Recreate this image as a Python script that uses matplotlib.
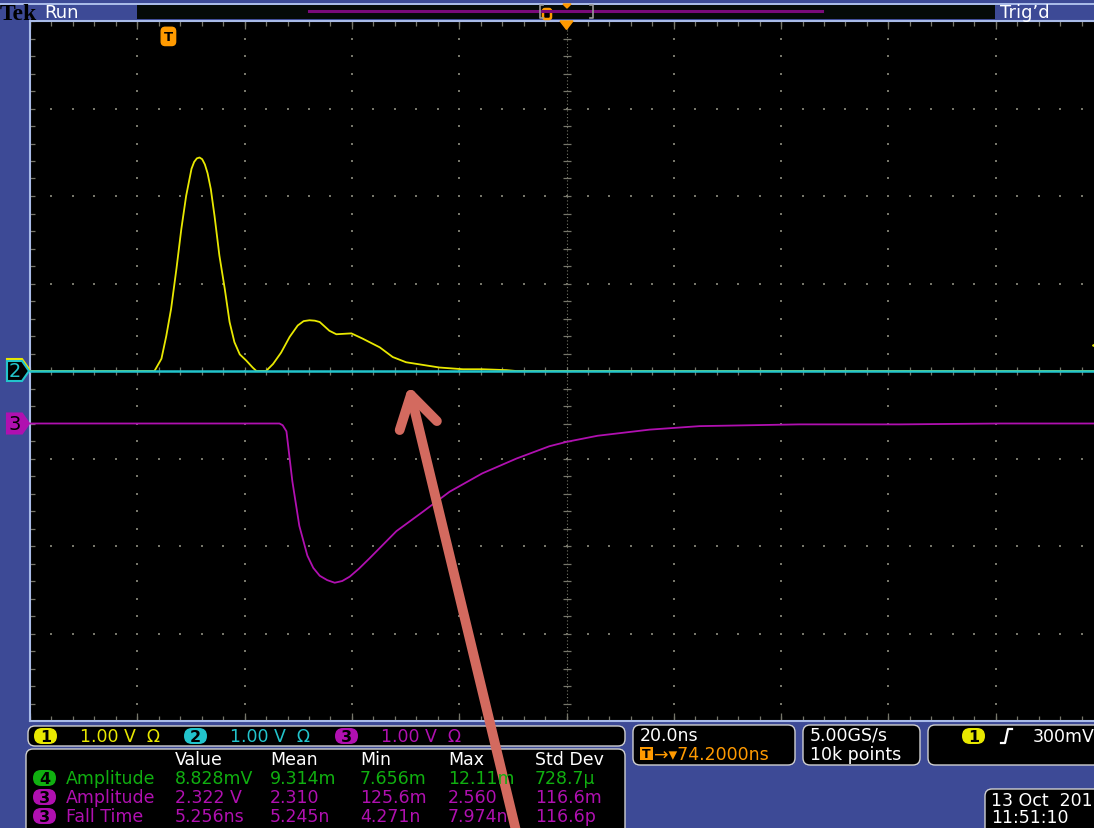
import numpy as np
import matplotlib.pyplot as plt
import matplotlib.transforms as mtransforms
from matplotlib.patches import Rectangle, FancyBboxPatch, Polygon, FancyArrowPatch

# time after trigger (ns) and volts
ch1_t = [-25.8, -2.6, -1.3, -0.4, 0.5, 1.5, 2.4, 3.3, 4.3, 4.8, 5.3, 5.8, 6.3, 6.8, 7.3,
         7.9, 8.6, 9.5, 10.5, 11.4, 12.3, 13.3, 14.5, 15.7, 16.4, 18.2, 19.5, 21.0,
         22.6, 24.1, 25.2, 26.3, 27.3, 28.2, 30.0, 31.3, 32.7, 34.1, 36.2, 39.4, 41.8,
         44.3, 47.4, 50.5, 54.9, 58.6, 63.0, 64.8, 174.2]
ch1_v = [0.0, 0.0, 0.14, 0.40, 0.71, 1.17, 1.62, 2.00, 2.31, 2.39, 2.43, 2.44, 2.42, 2.36,
         2.26, 2.08, 1.77, 1.32, 0.94, 0.56, 0.33, 0.19, 0.12, 0.04, 0.0, 0.0, 0.08, 0.21,
         0.39, 0.52, 0.57, 0.58, 0.575, 0.56, 0.46, 0.42, 0.425, 0.43, 0.37, 0.27, 0.16,
         0.10, 0.07, 0.04, 0.02, 0.02, 0.01, 0.0, 0.0]

ch2_t = [-25.8, 174.2]
ch2_v = [0.0, 0.0]

ch3_t = [-25.8, 20.7, 21.3, 22.0, 23.1, 24.4, 25.9, 27.0, 28.2, 29.6, 31.0, 32.4, 33.8,
         35.5, 37.5, 42.5, 47.4, 52.4, 58.5, 64.9, 71.0, 74.2, 80.0, 89.7, 99.0, 117.6,
         136.3, 155.0, 174.2]
ch3_v = [0.0, 0.0, -0.02, -0.09, -0.66, -1.17, -1.51, -1.65, -1.74, -1.79, -1.82, -1.80,
         -1.75, -1.66, -1.54, -1.23, -1.01, -0.78, -0.57, -0.40, -0.26, -0.21, -0.14,
         -0.07, -0.03, -0.01, -0.01, 0.0, 0.0]
ch3_offset = -0.6

t_center = 74.2      # horizontal position
ns_div = 20.0
v_div = 1.0

meas_cols = ['Value', 'Mean', 'Min', 'Max', 'Std Dev']
meas_rows = [('4', 'Amplitude', ['8.828mV', '9.314m', '7.656m', '12.11m', '728.7µ']),
             ('3', 'Amplitude', ['2.322 V', '2.310', '125.6m', '2.560', '116.6m']),
             ('3', 'Fall Time', ['5.256ns', '5.245n', '4.271n', '7.974n', '116.6p'])]

BLUE = '#3d4a96'
EDGE = '#a9bbe8'
GRID = '#76766a'
YEL = '#e8e800'
CYA = '#22c4cc'
MAG = '#b010b0'
GRN = '#10b010'
ORG = '#ff9a00'
FONT = ['DejaVu Sans']

W, H = 1094, 829
fig = plt.figure(figsize=(W / 100, H / 100), dpi=100, facecolor=BLUE)
PX = mtransforms.Affine2D().scale(1 / W, -1 / H).translate(0, 1) + fig.transFigure

ax = fig.add_axes([30 / W, 107 / H, 1073 / W, 700 / H])
ax.set_facecolor('black')
x0, x1 = t_center - 5 * ns_div, t_center + 5 * ns_div
ax.set_xlim(x0, x1)
ax.set_ylim(-4 * v_div, 4 * v_div)
ax.set_xticks([])
ax.set_yticks([])
for s in ax.spines.values():
    s.set_color(EDGE)
    s.set_linewidth(1.5)

# graticule
xmaj = x0 + ns_div * np.arange(11)
ymaj = np.arange(-4, 5) * v_div
xmin = x0 + ns_div / 5 * np.arange(51)
ymin = np.arange(-20, 21) * v_div / 5
for xv in xmaj[1:-1]:
    if abs(xv - t_center) > 1e-6:
        ax.scatter(np.full(len(ymin), xv), ymin, s=1.6, marker='s', color=GRID, lw=0)
for yv in ymaj[1:-1]:
    if yv != 0:
        ax.scatter(xmin, np.full(len(xmin), yv), s=1.6, marker='s', color=GRID, lw=0)
ax.axvline(t_center, color=GRID, lw=0.8, ls=(0, (1, 2)))
ax.axhline(0, color=GRID, lw=0.8, ls=(0, (1, 2)))
ax.plot(np.full(len(ymin), t_center), ymin, ls='none', marker='_', ms=6, color=GRID, mew=0.9)
ax.plot(xmin, np.zeros(len(xmin)), ls='none', marker='|', ms=6, color=GRID, mew=0.9)
for yv, mk, xs in [(4, '|', xmin), (-4, '|', xmin)]:
    ax.plot(xs, np.full(len(xs), yv), ls='none', marker=mk, ms=7, color=GRID, mew=0.9)
    ax.plot(xmaj, np.full(len(xmaj), yv), ls='none', marker=mk, ms=12, color=GRID, mew=0.9)
ax.plot(np.full(len(ymin), x0), ymin, ls='none', marker='_', ms=7, color=GRID, mew=0.9)

# traces
ax.plot(ch1_t, ch1_v, color=YEL, lw=1.3, zorder=5, solid_joinstyle='round')
ax.plot(ch2_t, ch2_v, color=CYA, lw=1.8, zorder=6)
ax.plot(ch3_t, np.array(ch3_v) + ch3_offset, color=MAG, lw=1.3, zorder=5,
        solid_joinstyle='round')

# trigger level marker on the right edge
ax.plot([x1 - 1.5], [0.3], marker='<', ms=5, color=YEL, clip_on=True, zorder=7)

# trigger marker inside graticule
tb = mtransforms.blended_transform_factory(ax.transData, ax.transAxes)
ax.text(0, 0.978, 'T', transform=tb, ha='center', va='center', fontsize=9.5, fontweight='bold',
        color='black', family=FONT, zorder=8,
        bbox=dict(boxstyle='round,pad=0.2,rounding_size=0.3', fc=ORG, ec=ORG))
ax.add_patch(Polygon([[t_center - 1.2, 1.0], [t_center + 1.2, 1.0], [t_center, 0.988]],
                     closed=True, transform=tb, color=ORG, clip_on=False, zorder=9))

# channel ground markers on the left
lb = mtransforms.blended_transform_factory(
    mtransforms.Affine2D().scale(1 / W, 1) + fig.transFigure, ax.transData)
hh = 10 / 87.5
for yv, num, fc, ec, tc, dy in [(0, '1', 'black', YEL, YEL, 2 / 87.5),
                                (0, '2', 'black', CYA, CYA, 0),
                                (ch3_offset, '3', MAG, MAG, 'black', 0)]:
    yc = yv + dy
    pts = [[7, yc + hh], [22, yc + hh], [29, yc], [22, yc - hh], [7, yc - hh]]
    fig.patches.append(Polygon(pts, closed=True, transform=lb, fc=fc, ec=ec, lw=1.5))
    if num != '1':
        fig.text(15, yc, num, transform=lb, ha='center', va='center', color=tc,
                 fontsize=14, family=FONT)

# top status bar
fig.patches.append(Rectangle((137, 5), 858, 15, transform=PX, fc='#050a08', ec='none'))
fig.patches.append(Rectangle((0, 4), W, 1.5, transform=PX, fc=EDGE, ec='none'))
fig.add_artist(plt.Line2D([309, 822], [12, 12], transform=PX, color='#7a0a7a', lw=2.2))
for bx, sgn in [(540, 1), (593, -1)]:
    fig.add_artist(plt.Line2D([bx + 3 * sgn, bx, bx, bx + 3 * sgn], [6, 6, 19, 19],
                              transform=PX, color='#9a9a9a', lw=1.2))
fig.patches.append(FancyBboxPatch((543, 10), 8, 10, boxstyle='round,pad=0,rounding_size=2',
                                  transform=PX, fc='black', ec=ORG, lw=1.8))
fig.patches.append(Polygon([[563, 5], [571, 5], [567, 9]], closed=True, transform=PX, color=ORG))
fig.text(0, 14, 'Tek', transform=PX, va='center', ha='left', fontsize=17, fontweight='bold',
         family=['Liberation Serif', 'DejaVu Serif'], color='black')
fig.text(44, 13, 'Run', transform=PX, va='center', ha='left', fontsize=13, color='white',
         family=FONT)
fig.text(1000, 13, "Trig’d", transform=PX, va='center', ha='left', fontsize=13,
         color='white', family=FONT)


def box(x, y, w, h):
    fig.patches.append(FancyBboxPatch((x, y), w, h, boxstyle='round,pad=0,rounding_size=7',
                                      transform=PX, fc='black', ec='#d0d0d0', lw=1.0))


def badge(x, y, num, fc, w=23):
    fig.patches.append(FancyBboxPatch((x, y - 8), w, 16, boxstyle='round,pad=0,rounding_size=8',
                                      transform=PX, fc=fc, ec='none'))
    fig.text(x + w / 2, y + 0.5, num, transform=PX, ha='center', va='center', fontsize=11.5,
             fontweight='bold', color='black', family=FONT)


def txt(x, y, s, c='white', **kw):
    fig.text(x, y, s, transform=PX, ha='left', va='center', fontsize=12.5, color=c,
             family=FONT, **kw)


# vertical scale box
box(28, 727, 597, 20)
for xb, num, c in [(34, '1', YEL), (184, '2', CYA), (335, '3', MAG)]:
    badge(xb, 737, num, c)
    txt(xb + 46, 737, '1.00 V  Ω', c)

# measurement box
box(26, 750, 599, 90)
col_x = [175, 270, 360, 448, 535]
for cx, name in zip(col_x, meas_cols):
    txt(cx, 760, name)
row_y = [779, 798, 817]
for ry, (num, label, vals) in zip(row_y, meas_rows):
    c = GRN if num == '4' else MAG
    badge(33, ry, num, c)
    txt(66, ry, label, c)
    for cx, v in zip(col_x, vals):
        txt(cx, ry, v, c)

# horizontal box
box(633, 726, 162, 40)
txt(640, 736, '20.0ns')
fig.patches.append(Rectangle((640, 748), 13, 13, transform=PX, fc=ORG, ec='none'))
fig.text(646.5, 755, 'T', transform=PX, ha='center', va='center', fontsize=9,
         fontweight='bold', color='black', family=FONT)
txt(654, 755, '→▾74.2000ns', ORG)

# acquisition box
box(803, 726, 117, 40)
txt(810, 736, '5.00GS/s')
txt(810, 755, '10k points')

# trigger box
box(928, 726, 200, 40)
badge(962, 737, '1', YEL)
fig.add_artist(plt.Line2D([1001, 1005, 1008, 1012], [744, 744, 730, 730], transform=PX,
                          color='white', lw=1.6))
txt(1033, 737, '300mV')

# date box
box(985, 790, 140, 50)
txt(991, 801, '13 Oct  2017')
txt(991, 818, '11:51:10')

# annotation arrow
fig.patches.append(FancyArrowPatch((518, 840), (408, 384), transform=PX,
                                   arrowstyle='->,head_length=1.9,head_width=1.15',
                                   mutation_scale=12, color='#d36a5f', lw=7,
                                   capstyle='round', joinstyle='round'))

fig.savefig('out.png', dpi=100, facecolor=BLUE)
